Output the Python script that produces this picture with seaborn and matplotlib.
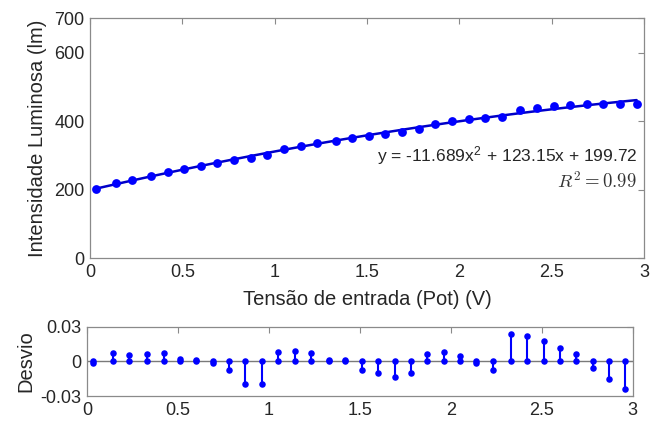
import matplotlib
matplotlib.use("Agg")
import numpy as np
import pandas as pd
import seaborn as sns
import matplotlib.pyplot as plt

# ---- data ----
tensao = [0.03, 0.14, 0.23, 0.33, 0.42, 0.51, 0.60, 0.69, 0.78, 0.87, 0.96,
          1.05, 1.14, 1.23, 1.33, 1.42, 1.51, 1.60, 1.69, 1.78, 1.87, 1.96,
          2.05, 2.14, 2.23, 2.33, 2.42, 2.51, 2.60, 2.69, 2.78, 2.87, 2.96]
intensidade = [203.2, 218.3, 228.7, 240.6, 251.2, 260.0, 269.6, 278.7, 286.5,
               292.2, 301.1, 318.8, 327.7, 335.9, 343.3, 351.4, 356.3, 363.3,
               369.4, 378.0, 391.7, 399.5, 404.9, 409.0, 413.1, 433.4, 438.6,
               442.8, 446.0, 449.2, 449.0, 450.1, 450.9]
desvio = [-0.0014, 0.0071, 0.0054, 0.0063, 0.0074, 0.0020, 0.0009, -0.0017,
          -0.0074, -0.0194, -0.0197, 0.0083, 0.0086, 0.0071, 0.0014, 0.0011,
          -0.0077, -0.0097, -0.0134, -0.0103, 0.0066, 0.0083, 0.0046, -0.0017,
          -0.0074, 0.0240, 0.0217, 0.0174, 0.0117, 0.0063, -0.0060, -0.0149,
          -0.0237]

x_ticks = [0, 0.5, 1, 1.5, 2, 2.5, 3]
x_tick_labels = ["0", "0.5", "1", "1.5", "2", "2.5", "3"]
y_ticks_top = [0, 200, 400, 600, 700]
y_tick_labels_top = ["0", "200", "400", "600", "700"]
y_ticks_bot = [-0.03, 0, 0.03]
y_tick_labels_bot = ["-0.03", "0", "0.03"]

x_label = "Tensão de entrada (Pot) (V)"
y_label_top = "Intensidade Luminosa (lm)"
y_label_bot = "Desvio"
equation_text = r"y = -11.689x$^{\mathregular{2}}$ + 123.15x + 199.72"
r2_text = r"$R^2 = 0.99$"

df = pd.DataFrame({"tensao": tensao, "intensidade": intensidade, "desvio": desvio})
df["base"] = df["desvio"] * 0

# ---- style ----
sns.set_style("white")
plt.rcParams["font.family"] = ["Liberation Sans", "DejaVu Sans"]
plt.rcParams["mathtext.fontset"] = "cm"

spine_col = "#8a8a8a"
text_col = "#262626"
blue = "#0000ff"

fig = plt.figure(figsize=(6.54, 4.23), dpi=100)
ax1 = fig.add_axes([90 / 654, 1 - 258.3 / 423, 554 / 654, 240 / 423])
ax2 = fig.add_axes([87.3 / 654, 1 - 396 / 423, 545.4 / 654, 69.3 / 423])

# ---- top: data + quadratic fit ----
sns.regplot(data=df, x="tensao", y="intensidade", order=2, ci=None,
            scatter=False, ax=ax1,
            line_kws=dict(color="#0000c8", lw=1.8, zorder=2))
sns.scatterplot(data=df, x="tensao", y="intensidade", ax=ax1, color=blue,
                marker="o", s=40, linewidth=0, zorder=3, legend=False)

ax1.text(2.962, 281, equation_text, ha="right", va="baseline",
         fontsize=12.5, color=text_col, transform=ax1.transData)
ax1.text(2.962, 205, r2_text, ha="right", va="baseline", fontsize=13.5,
         color="#333333", math_fontfamily="cm", transform=ax1.transData)

# ---- bottom: deviation stems ----
ax2.axhline(0, color="#7a7a7a", lw=1.0, zorder=1)
ax2.vlines(df["tensao"], df["base"], df["desvio"], color=blue, lw=1.5, zorder=2)
sns.scatterplot(data=df, x="tensao", y="base", ax=ax2, color=blue, marker="o",
                s=22, linewidth=0, zorder=3, legend=False)
sns.scatterplot(data=df, x="tensao", y="desvio", ax=ax2, color=blue, marker="o",
                s=22, linewidth=0, zorder=3, legend=False)

# ---- axes formatting ----
for ax in (ax1, ax2):
    ax.set_xlim(0, 3)
    ax.set_xticks(x_ticks, x_tick_labels)
    for sp in ax.spines.values():
        sp.set_color(spine_col)
        sp.set_linewidth(0.9)
    ax.tick_params(direction="in", top=True, right=True, length=4, width=0.8,
                   color=spine_col, labelcolor=text_col, labelsize=13, pad=4)

ax1.set_ylim(0, 700)
ax1.set_yticks(y_ticks_top, y_tick_labels_top)
ax2.set_ylim(-0.03, 0.03)
ax2.set_yticks(y_ticks_bot, y_tick_labels_bot)

ax1.set_xlabel(x_label, fontsize=14.5, color=text_col)
ax1.xaxis.set_label_coords(0.5, -0.13)
ax1.set_ylabel(y_label_top, fontsize=14.5, color=text_col)
ax1.yaxis.set_label_coords(-0.078, 0.5)
ax2.set_xlabel("")
ax2.set_ylabel(y_label_bot, fontsize=14.5, color=text_col)
ax2.yaxis.set_label_coords(-0.095, 0.5)

fig.savefig("out.png", dpi=100)
